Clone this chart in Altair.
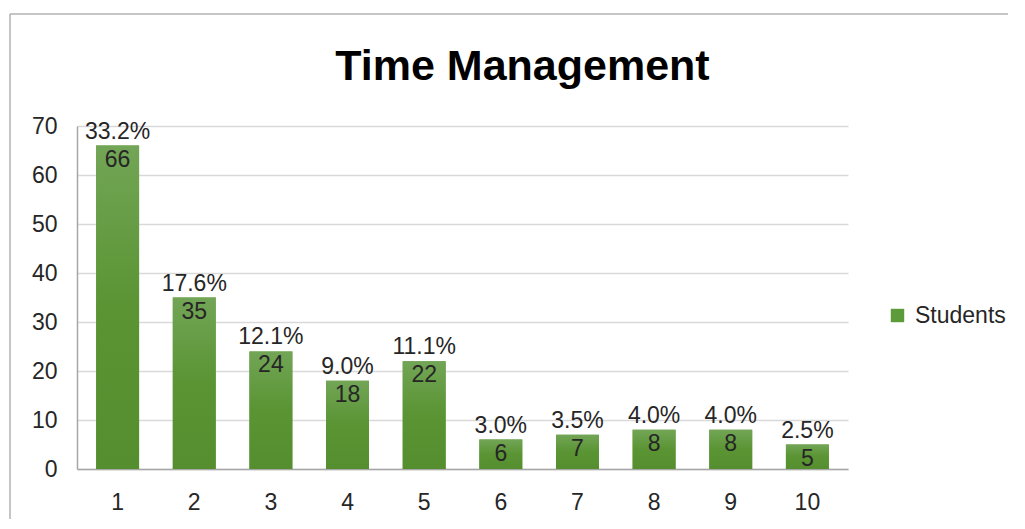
import altair as alt
import pandas as pd

categories = ["1", "2", "3", "4", "5", "6", "7", "8", "9", "10"]
students = [66, 35, 24, 18, 22, 6, 7, 8, 8, 5]
percent_labels = ["33.2%", "17.6%", "12.1%", "9.0%", "11.1%", "3.0%", "3.5%", "4.0%", "4.0%", "2.5%"]
series_name = "Students"

df = pd.DataFrame({
    "cat": categories,
    "students": students,
    "pct": percent_labels,
    "series": [series_name] * len(categories),
})

FONT = "Liberation Sans"
TXT = "#262626"
FS = 23

x = alt.X("cat:N", sort=categories, title=None,
          scale=alt.Scale(paddingInner=0.44, paddingOuter=0.25),
          axis=alt.Axis(labelAngle=0, labelFontSize=FS, labelColor=TXT, labelFont=FONT,
                        ticks=False, labelPadding=22, domainColor="#a6a6a6", domainWidth=1.5))
y = alt.Y("students:Q", title=None,
          scale=alt.Scale(domain=[0, 70]),
          axis=alt.Axis(values=[0, 10, 20, 30, 40, 50, 60, 70], labelFontSize=FS, labelColor=TXT,
                        labelFont=FONT, ticks=False, labelPadding=20, gridColor="#d9d9d9",
                        domainColor="#a6a6a6", domainWidth=1.5))

base = alt.Chart(df)

legend_bars = base.mark_bar().encode(
    x=x, y=y,
    color=alt.Color("series:N", scale=alt.Scale(range=["#5d9a3a"]),
                    legend=alt.Legend(title=None, orient="none", legendX=809, legendY=178,
                                      symbolType="square", symbolSize=180, symbolStrokeWidth=0,
                                      labelFontSize=FS, labelFont=FONT, labelColor=TXT,
                                      labelOffset=6)),
)

grad_bars = base.mark_bar(
    color=alt.Gradient(gradient="linear", x1=0, y1=0, x2=0, y2=1,
                       stops=[alt.GradientStop(color="#72a556", offset=0),
                              alt.GradientStop(color="#5a9433", offset=0.5),
                              alt.GradientStop(color="#548e2e", offset=1)])
).encode(x=x, y=y)

count_text = base.mark_text(baseline="top", dy=3, fontSize=FS, font=FONT, color=TXT).encode(
    x=x, y=y, text="students:Q")

pct_text = base.mark_text(baseline="bottom", dy=-2, fontSize=FS, font=FONT, color=TXT).encode(
    x=x, y=y, text="pct:N")

border = alt.Chart(pd.DataFrame({"a": [0]})).mark_rule(color="#8c8c8c", strokeWidth=1).encode(
    x=alt.value(-67), x2=alt.value(1000), y=alt.value(-112))
border2 = alt.Chart(pd.DataFrame({"a": [0]})).mark_rule(color="#8c8c8c", strokeWidth=1).encode(
    x=alt.value(-67), y=alt.value(-112), y2=alt.value(500))

chart = alt.layer(border, border2, legend_bars, grad_bars, count_text, pct_text).properties(
    width=771, height=343,
    title=alt.Title("Time Management", fontSize=43, font=FONT, fontWeight="bold", color="#000000",
                    anchor="middle", frame="group", dx=60, offset=0, dy=75),
    autosize=alt.AutoSizeParams(type="none"),
    padding={"left": 69, "top": 118, "right": 160, "bottom": 50},
).configure_view(stroke=None).configure_axis(gridWidth=1.5)

chart.save("out.html", embed_options={"renderer": "svg", "actions": False})
